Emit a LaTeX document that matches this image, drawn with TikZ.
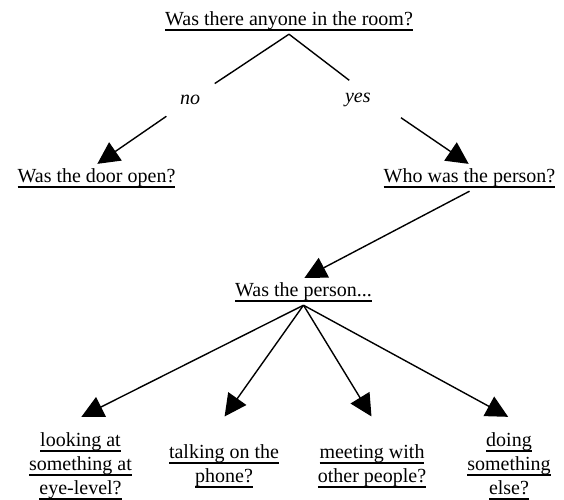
\documentclass[tikz,border=0pt]{standalone}
\usepackage{fontspec}
\setmainfont{Liberation Serif}
\usetikzlibrary{arrows.meta}
\newsavebox{\qbox}
\newcommand{\uq}[1]{\sbox{\qbox}{#1}\rlap{\rule[-5.5pt]{\wd\qbox}{1.3pt}}\usebox{\qbox}}
\begin{document}
\begin{tikzpicture}[x=1pt, y=-1pt, shorten >=1pt, line width=1.4pt,
question/.style={anchor=base, inner sep=3pt},
answer/.style={circle, inner sep=0pt, minimum size=56pt, font=\fontsize{20pt}{24pt}\selectfont\itshape},
choice/.style={align=center, inner sep=0pt, minimum height=96pt},
arr/.style={-{Triangle[length=22pt,width=22pt]}}]
\useasboundingbox (0,0) rectangle (564,499);
\begin{scope}[every node/.style={font=\fontsize{20pt}{24pt}\selectfont}]
\node[question] (room) at (289,25) {\uq{Was there anyone in the room?}};
\node[answer] (no) at (190,100) {no};
\node[answer, text width=60pt, align=left] (yes) at (375,100) {yes};
\node[question] (door) at (96.5,182) {\uq{Was the door open?}};
\node[question] (who) at (469.5,182) {\uq{Who was the person?}};
\node[question] (person) at (303.5,296) {\uq{Was the person...}};
\node[choice] (look) at (80.5,466) {\uq{looking at}\\\uq{something at}\\\uq{eye-level?}};
\node[choice] (phone) at (224,466) {\uq{talking on the}\\\uq{phone?}};
\node[choice] (meet) at (372,466) {\uq{meeting with}\\\uq{other people?}};
\node[choice] (else) at (509,466) {\uq{doing}\\\uq{something}\\\uq{else?}};
\end{scope}
\begin{scope}[every edge/.style={draw=black,line width=1.4pt}]
\draw  (room.south) edge (no);
\draw  (room.south) edge (yes);
\draw  (no) edge[arr] (door.north);
\draw  (yes) edge[arr] (who.north);
\draw  (who.south) edge[arr] (person.north);
\draw  (person.south) edge[arr] (look.north);
\draw  (person.south) edge[arr] (phone.north);
\draw  (person.south) edge[arr] (meet.north);
\draw  (person.south) edge[arr] (else.north);
\end{scope}
\end{tikzpicture}
\end{document}
